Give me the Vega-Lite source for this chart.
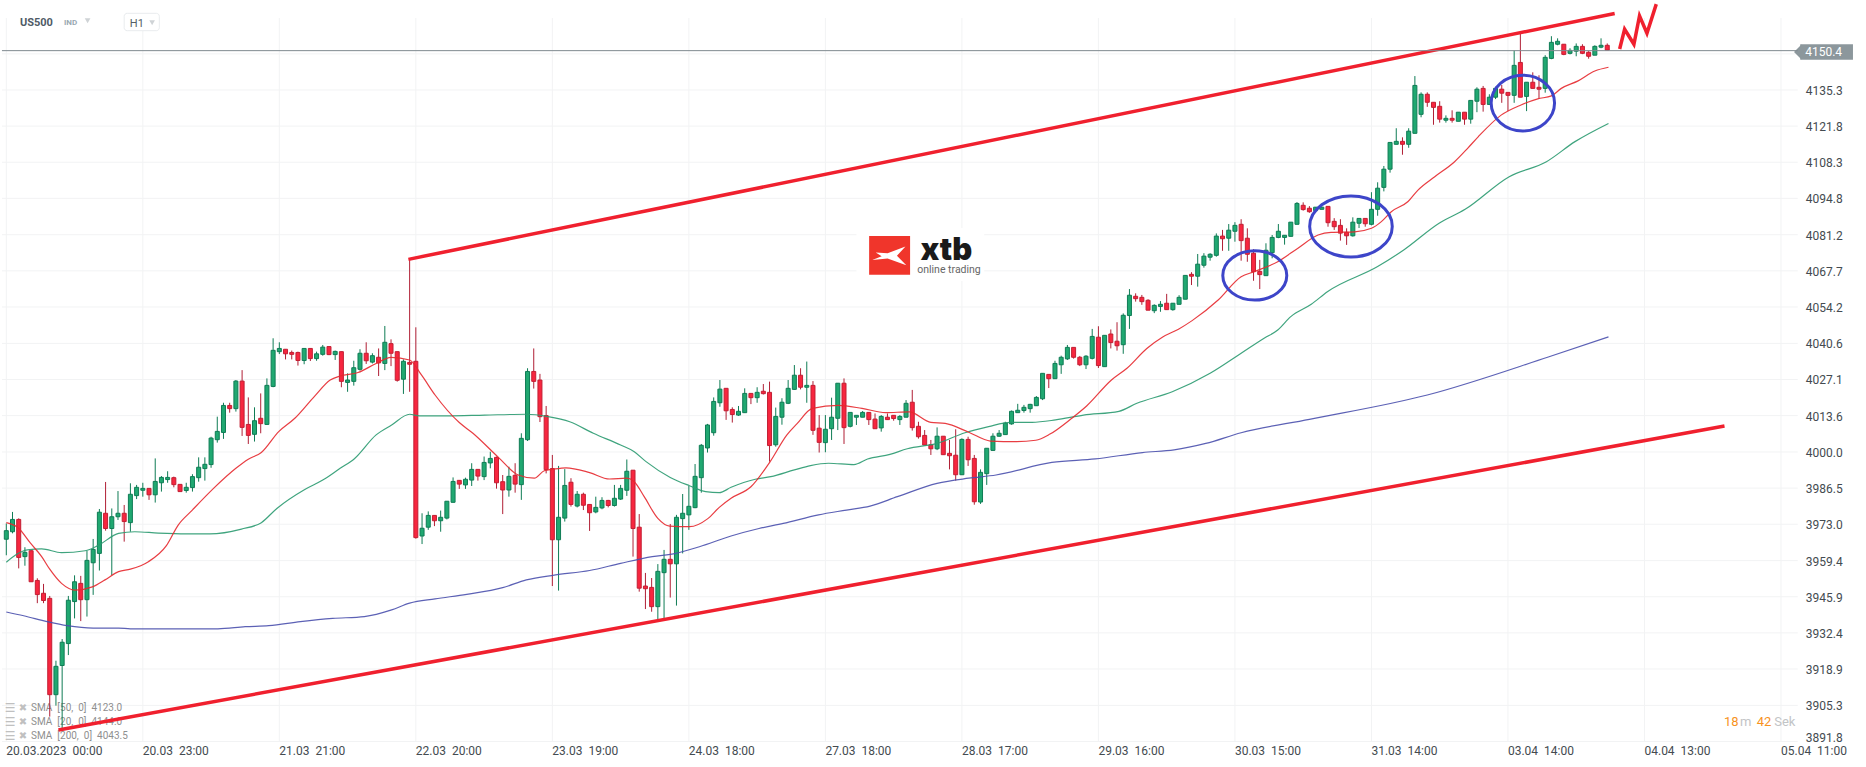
{
"$schema":"https://vega.github.io/schema/vega-lite/v6.json",
"width":1866,"height":767,"padding":0,"autosize":{"type":"none"},
"background":"#ffffff",
"view":{"stroke":null},
"config":{"text":{"font":"Roboto"},"scale":{"continuousPadding":0}},
"datasets":{
"candles":[
{"i":0,"o":3967.4,"h":3973.3,"l":3961.4,"c":3970.6},{"i":1,"o":3970.2,"h":3977.6,"l":3969.6,"c":3974.8},{"i":2,"o":3974.8,"h":3975.2,"l":3956.5,"c":3960.6},{"i":3,"o":3960.9,"h":3964.4,"l":3957.5,"c":3962.5},{"i":4,"o":3963.1,"h":3963.4,"l":3951.5,"c":3951.5},{"i":5,"o":3952.0,"h":3952.8,"l":3943.5,"c":3946.7},{"i":6,"o":3947.2,"h":3950.7,"l":3943.5,"c":3944.5},{"i":7,"o":3945.3,"h":3946.2,"l":3901.1,"c":3909.3},{"i":8,"o":3909.3,"h":3922.0,"l":3905.2,"c":3919.9},{"i":9,"o":3920.2,"h":3930.1,"l":3896.1,"c":3928.9},
{"i":10,"o":3928.4,"h":3946.2,"l":3924.1,"c":3944.6},{"i":11,"o":3944.1,"h":3953.9,"l":3937.8,"c":3951.5},{"i":12,"o":3950.9,"h":3953.7,"l":3936.8,"c":3944.8},{"i":13,"o":3944.8,"h":3963.1,"l":3938.5,"c":3959.5},{"i":14,"o":3958.6,"h":3967.5,"l":3946.6,"c":3963.6},{"i":15,"o":3962.1,"h":3978.7,"l":3955.7,"c":3977.5},{"i":16,"o":3977.1,"h":3988.8,"l":3970.6,"c":3971.4},{"i":17,"o":3971.4,"h":3978.9,"l":3954.0,"c":3975.8},{"i":18,"o":3975.8,"h":3985.4,"l":3974.6,"c":3977.1},{"i":19,"o":3977.1,"h":3980.2,"l":3966.5,"c":3974.0},
{"i":20,"o":3973.6,"h":3988.3,"l":3970.2,"c":3984.2},{"i":21,"o":3983.7,"h":3987.7,"l":3982.4,"c":3986.8},{"i":22,"o":3985.7,"h":3988.5,"l":3983.3,"c":3986.4},{"i":23,"o":3986.4,"h":3986.4,"l":3982.1,"c":3984.0},{"i":24,"o":3984.0,"h":3997.6,"l":3981.1,"c":3989.0},{"i":25,"o":3988.5,"h":3991.0,"l":3985.2,"c":3990.5},{"i":26,"o":3989.7,"h":3992.8,"l":3988.5,"c":3990.5},{"i":27,"o":3990.4,"h":3990.8,"l":3986.8,"c":3987.8},{"i":28,"o":3987.9,"h":3988.0,"l":3985.2,"c":3985.2},{"i":29,"o":3985.6,"h":3988.5,"l":3984.8,"c":3986.8},
{"i":30,"o":3986.7,"h":3991.7,"l":3985.2,"c":3990.8},{"i":31,"o":3990.4,"h":3998.0,"l":3988.9,"c":3994.3},{"i":32,"o":3993.8,"h":3998.0,"l":3989.3,"c":3995.4},{"i":33,"o":3995.3,"h":4005.7,"l":3994.1,"c":4005.2},{"i":34,"o":4004.6,"h":4013.2,"l":4003.5,"c":4007.7},{"i":35,"o":4007.3,"h":4018.4,"l":4004.9,"c":4017.4},{"i":36,"o":4017.4,"h":4018.4,"l":4014.7,"c":4016.2},{"i":37,"o":4016.2,"h":4026.9,"l":4015.1,"c":4026.5},{"i":38,"o":4026.5,"h":4030.6,"l":4006.0,"c":4009.2},{"i":39,"o":4010.3,"h":4020.4,"l":4003.0,"c":4006.2},
{"i":40,"o":4006.6,"h":4016.7,"l":4003.9,"c":4011.7},{"i":41,"o":4012.6,"h":4021.9,"l":4007.0,"c":4010.6},{"i":42,"o":4010.3,"h":4027.5,"l":4010.1,"c":4024.9},{"i":43,"o":4024.5,"h":4042.5,"l":4024.2,"c":4038.0},{"i":44,"o":4037.5,"h":4041.0,"l":4036.6,"c":4038.7},{"i":45,"o":4038.4,"h":4038.4,"l":4034.6,"c":4036.7},{"i":46,"o":4037.2,"h":4037.9,"l":4034.6,"c":4036.5},{"i":47,"o":4037.2,"h":4037.5,"l":4032.3,"c":4034.2},{"i":48,"o":4034.2,"h":4038.7,"l":4032.8,"c":4038.7},{"i":49,"o":4038.7,"h":4038.7,"l":4034.0,"c":4034.9},
{"i":50,"o":4034.9,"h":4037.5,"l":4034.1,"c":4036.7},{"i":51,"o":4036.5,"h":4040.0,"l":4036.0,"c":4039.2},{"i":52,"o":4039.4,"h":4039.4,"l":4036.2,"c":4036.4},{"i":53,"o":4036.4,"h":4037.9,"l":4034.4,"c":4037.6},{"i":54,"o":4037.5,"h":4037.5,"l":4024.2,"c":4026.4},{"i":55,"o":4026.0,"h":4029.4,"l":4022.5,"c":4026.9},{"i":56,"o":4026.4,"h":4034.1,"l":4024.8,"c":4031.5},{"i":57,"o":4030.9,"h":4038.4,"l":4030.4,"c":4036.9},{"i":58,"o":4036.9,"h":4041.0,"l":4032.9,"c":4034.1},{"i":59,"o":4033.6,"h":4036.9,"l":4033.1,"c":4036.0},
{"i":60,"o":4035.4,"h":4038.7,"l":4028.4,"c":4033.3},{"i":61,"o":4033.1,"h":4047.1,"l":4030.6,"c":4041.0},{"i":62,"o":4040.5,"h":4042.1,"l":4032.1,"c":4036.9},{"i":63,"o":4037.5,"h":4037.5,"l":4026.3,"c":4026.8},{"i":64,"o":4027.2,"h":4034.6,"l":4021.7,"c":4033.9},{"i":65,"o":4033.5,"h":4072.0,"l":4022.5,"c":4032.8},{"i":66,"o":4033.9,"h":4046.6,"l":3967.6,"c":3968.0},{"i":67,"o":3968.6,"h":3977.1,"l":3965.6,"c":3971.5},{"i":68,"o":3971.9,"h":3977.8,"l":3970.9,"c":3976.3},{"i":69,"o":3976.3,"h":3976.3,"l":3972.3,"c":3974.3},
{"i":70,"o":3974.3,"h":3978.1,"l":3970.2,"c":3975.6},{"i":71,"o":3975.3,"h":3981.6,"l":3974.8,"c":3981.6},{"i":72,"o":3981.2,"h":3990.5,"l":3981.1,"c":3989.0},{"i":73,"o":3989.4,"h":3989.4,"l":3986.2,"c":3988.0},{"i":74,"o":3987.7,"h":3990.4,"l":3986.2,"c":3989.8},{"i":75,"o":3989.5,"h":3995.8,"l":3987.3,"c":3993.5},{"i":76,"o":3993.5,"h":3993.5,"l":3989.3,"c":3991.0},{"i":77,"o":3990.8,"h":3998.3,"l":3989.5,"c":3996.1},{"i":78,"o":3995.9,"h":4000.1,"l":3993.9,"c":3997.6},{"i":79,"o":3998.0,"h":3998.3,"l":3986.3,"c":3988.5},
{"i":80,"o":3988.9,"h":3991.4,"l":3976.8,"c":3985.8},{"i":81,"o":3985.8,"h":3994.5,"l":3983.3,"c":3990.9},{"i":82,"o":3991.3,"h":3995.8,"l":3984.8,"c":3988.0},{"i":83,"o":3987.8,"h":4007.0,"l":3982.1,"c":4005.1},{"i":84,"o":4004.6,"h":4031.3,"l":4004.1,"c":4030.1},{"i":85,"o":4030.1,"h":4038.7,"l":4023.7,"c":4026.4},{"i":86,"o":4026.9,"h":4029.2,"l":4011.2,"c":4013.2},{"i":87,"o":4013.6,"h":4017.2,"l":3992.0,"c":3993.4},{"i":88,"o":3993.8,"h":3998.9,"l":3949.9,"c":3967.2},{"i":89,"o":3967.2,"h":3994.8,"l":3948.2,"c":3975.6},
{"i":90,"o":3975.3,"h":3993.6,"l":3974.0,"c":3987.5},{"i":91,"o":3988.7,"h":3990.2,"l":3979.6,"c":3980.4},{"i":92,"o":3979.8,"h":3985.4,"l":3979.3,"c":3984.2},{"i":93,"o":3984.2,"h":3984.8,"l":3978.3,"c":3980.1},{"i":94,"o":3980.4,"h":3980.4,"l":3970.5,"c":3977.3},{"i":95,"o":3977.6,"h":3983.3,"l":3977.1,"c":3979.3},{"i":96,"o":3979.1,"h":3983.1,"l":3978.6,"c":3981.9},{"i":97,"o":3981.9,"h":3982.1,"l":3979.3,"c":3980.0},{"i":98,"o":3980.0,"h":3987.7,"l":3979.6,"c":3982.7},{"i":99,"o":3982.4,"h":3987.7,"l":3982.1,"c":3986.4},
{"i":100,"o":3985.7,"h":3997.2,"l":3983.6,"c":3992.8},{"i":101,"o":3993.2,"h":3993.2,"l":3960.9,"c":3971.4},{"i":102,"o":3971.9,"h":3976.8,"l":3947.8,"c":3949.1},{"i":103,"o":3949.9,"h":3954.8,"l":3941.3,"c":3948.9},{"i":104,"o":3949.4,"h":3952.9,"l":3940.3,"c":3942.2},{"i":105,"o":3942.2,"h":3958.1,"l":3936.6,"c":3955.4},{"i":106,"o":3954.9,"h":3963.4,"l":3937.2,"c":3959.9},{"i":107,"o":3959.9,"h":3973.1,"l":3945.6,"c":3958.2},{"i":108,"o":3958.2,"h":3976.5,"l":3942.6,"c":3975.6},{"i":109,"o":3975.1,"h":3984.3,"l":3962.1,"c":3977.1},
{"i":110,"o":3976.5,"h":3987.3,"l":3970.9,"c":3979.7},{"i":111,"o":3979.2,"h":3995.5,"l":3979.0,"c":3990.9},{"i":112,"o":3990.4,"h":4003.0,"l":3984.8,"c":4002.5},{"i":113,"o":4001.5,"h":4010.5,"l":3999.8,"c":4010.1},{"i":114,"o":4007.2,"h":4020.4,"l":4006.1,"c":4018.9},{"i":115,"o":4018.4,"h":4026.9,"l":4016.9,"c":4023.5},{"i":116,"o":4023.8,"h":4023.8,"l":4012.0,"c":4015.4},{"i":117,"o":4015.9,"h":4016.7,"l":4011.0,"c":4014.0},{"i":118,"o":4013.8,"h":4017.2,"l":4013.5,"c":4015.2},{"i":119,"o":4014.7,"h":4023.8,"l":4014.7,"c":4021.9},
{"i":120,"o":4021.9,"h":4021.9,"l":4017.9,"c":4020.3},{"i":121,"o":4020.3,"h":4024.2,"l":4018.4,"c":4022.3},{"i":122,"o":4022.7,"h":4025.4,"l":4021.5,"c":4021.8},{"i":123,"o":4022.3,"h":4026.3,"l":3996.4,"c":4002.4},{"i":124,"o":4002.7,"h":4016.6,"l":4002.0,"c":4013.3},{"i":125,"o":4013.0,"h":4020.1,"l":4010.2,"c":4018.6},{"i":126,"o":4018.2,"h":4026.9,"l":4017.9,"c":4023.8},{"i":127,"o":4023.4,"h":4032.5,"l":4023.2,"c":4028.7},{"i":128,"o":4028.7,"h":4031.3,"l":4023.4,"c":4024.2},{"i":129,"o":4024.2,"h":4033.8,"l":4018.4,"c":4024.9},
{"i":130,"o":4024.9,"h":4026.5,"l":4006.4,"c":4008.1},{"i":131,"o":4008.9,"h":4013.8,"l":3999.8,"c":4003.6},{"i":132,"o":4003.5,"h":4013.8,"l":3999.9,"c":4008.5},{"i":133,"o":4008.7,"h":4020.3,"l":4004.5,"c":4013.0},{"i":134,"o":4012.6,"h":4025.7,"l":4008.2,"c":4025.7},{"i":135,"o":4025.7,"h":4027.5,"l":4003.0,"c":4009.1},{"i":136,"o":4009.6,"h":4014.8,"l":4009.2,"c":4014.8},{"i":137,"o":4013.0,"h":4013.7,"l":4010.1,"c":4013.7},{"i":138,"o":4013.0,"h":4015.3,"l":4013.0,"c":4014.8},{"i":139,"o":4014.8,"h":4014.8,"l":4010.1,"c":4012.1},
{"i":140,"o":4012.3,"h":4014.4,"l":4008.7,"c":4008.7},{"i":141,"o":4009.0,"h":4013.8,"l":4007.6,"c":4013.3},{"i":142,"o":4013.0,"h":4014.4,"l":4012.0,"c":4012.1},{"i":143,"o":4013.7,"h":4013.7,"l":4011.7,"c":4012.5},{"i":144,"o":4012.1,"h":4013.8,"l":4010.1,"c":4013.3},{"i":145,"o":4013.0,"h":4019.4,"l":4013.0,"c":4018.2},{"i":146,"o":4018.6,"h":4023.2,"l":4008.0,"c":4009.1},{"i":147,"o":4009.6,"h":4011.3,"l":4005.0,"c":4005.7},{"i":148,"o":4006.2,"h":4008.2,"l":4002.6,"c":4002.6},{"i":149,"o":4002.7,"h":4004.5,"l":3998.9,"c":4001.2},
{"i":150,"o":4001.2,"h":4009.2,"l":4000.7,"c":4005.9},{"i":151,"o":4005.9,"h":4005.9,"l":3998.9,"c":3999.0},{"i":152,"o":3999.5,"h":4004.5,"l":3993.5,"c":3998.6},{"i":153,"o":3998.8,"h":4008.5,"l":3989.3,"c":3991.5},{"i":154,"o":3991.5,"h":4005.1,"l":3991.4,"c":4004.7},{"i":155,"o":4004.7,"h":4005.7,"l":3994.8,"c":3997.1},{"i":156,"o":3997.6,"h":3998.9,"l":3980.3,"c":3981.4},{"i":157,"o":3981.3,"h":3993.5,"l":3980.6,"c":3992.4},{"i":158,"o":3991.9,"h":4001.4,"l":3987.7,"c":4001.4},{"i":159,"o":4000.6,"h":4007.0,"l":4000.5,"c":4005.9},
{"i":160,"o":4005.9,"h":4008.2,"l":4005.7,"c":4007.0},{"i":161,"o":4006.5,"h":4011.3,"l":4006.5,"c":4010.8},{"i":162,"o":4010.5,"h":4015.5,"l":4010.2,"c":4015.2},{"i":163,"o":4014.7,"h":4018.0,"l":4014.7,"c":4015.6},{"i":164,"o":4015.5,"h":4017.6,"l":4014.7,"c":4016.7},{"i":165,"o":4016.2,"h":4018.0,"l":4014.7,"c":4017.8},{"i":166,"o":4017.3,"h":4020.9,"l":4017.2,"c":4020.4},{"i":167,"o":4019.9,"h":4029.4,"l":4019.4,"c":4029.4},{"i":168,"o":4029.0,"h":4029.0,"l":4023.9,"c":4027.4},{"i":169,"o":4027.4,"h":4034.1,"l":4027.3,"c":4033.1},
{"i":170,"o":4032.6,"h":4036.0,"l":4029.2,"c":4035.4},{"i":171,"o":4034.8,"h":4040.0,"l":4034.4,"c":4039.1},{"i":172,"o":4039.1,"h":4039.1,"l":4034.9,"c":4035.4},{"i":173,"o":4035.4,"h":4035.9,"l":4032.1,"c":4032.6},{"i":174,"o":4032.6,"h":4036.2,"l":4031.0,"c":4035.8},{"i":175,"o":4035.0,"h":4046.0,"l":4034.6,"c":4043.2},{"i":176,"o":4042.9,"h":4047.0,"l":4031.4,"c":4032.3},{"i":177,"o":4031.9,"h":4043.6,"l":4031.9,"c":4043.6},{"i":178,"o":4044.1,"h":4045.8,"l":4038.7,"c":4040.9},{"i":179,"o":4041.4,"h":4048.5,"l":4037.9,"c":4039.7},
{"i":180,"o":4040.1,"h":4051.8,"l":4036.7,"c":4051.1},{"i":181,"o":4051.0,"h":4060.9,"l":4046.0,"c":4058.6},{"i":182,"o":4058.2,"h":4059.3,"l":4056.2,"c":4057.3},{"i":183,"o":4057.8,"h":4058.7,"l":4055.0,"c":4056.2},{"i":184,"o":4056.7,"h":4057.1,"l":4053.0,"c":4053.0},{"i":185,"o":4052.8,"h":4055.2,"l":4051.9,"c":4054.8},{"i":186,"o":4054.4,"h":4056.4,"l":4052.4,"c":4055.2},{"i":187,"o":4055.6,"h":4059.1,"l":4053.2,"c":4053.2},{"i":188,"o":4053.2,"h":4055.6,"l":4052.8,"c":4055.6},{"i":189,"o":4055.2,"h":4058.6,"l":4055.2,"c":4057.8},
{"i":190,"o":4057.1,"h":4066.0,"l":4057.1,"c":4066.0},{"i":191,"o":4066.4,"h":4067.2,"l":4062.4,"c":4065.7},{"i":192,"o":4065.7,"h":4074.0,"l":4061.8,"c":4070.2},{"i":193,"o":4069.8,"h":4074.3,"l":4068.9,"c":4073.2},{"i":194,"o":4072.8,"h":4074.3,"l":4071.5,"c":4073.9},{"i":195,"o":4073.5,"h":4081.7,"l":4073.0,"c":4080.7},{"i":196,"o":4080.7,"h":4083.0,"l":4075.2,"c":4079.7},{"i":197,"o":4079.9,"h":4085.2,"l":4075.2,"c":4082.9},{"i":198,"o":4082.5,"h":4085.9,"l":4078.6,"c":4084.7},{"i":199,"o":4085.1,"h":4087.0,"l":4071.5,"c":4079.0},
{"i":200,"o":4079.9,"h":4083.6,"l":4071.1,"c":4073.9},{"i":201,"o":4074.3,"h":4075.8,"l":4064.0,"c":4067.4},{"i":202,"o":4067.5,"h":4071.8,"l":4060.9,"c":4066.3},{"i":203,"o":4065.9,"h":4078.0,"l":4065.9,"c":4075.4},{"i":204,"o":4074.5,"h":4081.1,"l":4072.4,"c":4080.2},{"i":205,"o":4080.2,"h":4085.2,"l":4079.9,"c":4082.5},{"i":206,"o":4080.2,"h":4081.0,"l":4077.5,"c":4081.0},{"i":207,"o":4080.6,"h":4085.9,"l":4080.6,"c":4085.9},{"i":208,"o":4085.1,"h":4093.4,"l":4085.1,"c":4092.9},{"i":209,"o":4092.2,"h":4093.3,"l":4090.2,"c":4090.6},
{"i":210,"o":4091.1,"h":4091.9,"l":4089.4,"c":4089.8},{"i":211,"o":4090.2,"h":4091.5,"l":4089.8,"c":4091.5},{"i":212,"o":4090.7,"h":4091.7,"l":4090.7,"c":4091.5},{"i":213,"o":4091.8,"h":4091.8,"l":4084.2,"c":4085.7},{"i":214,"o":4086.2,"h":4087.4,"l":4083.0,"c":4084.2},{"i":215,"o":4084.7,"h":4087.0,"l":4079.0,"c":4081.8},{"i":216,"o":4082.1,"h":4083.6,"l":4077.4,"c":4080.8},{"i":217,"o":4080.8,"h":4087.7,"l":4080.5,"c":4085.9},{"i":218,"o":4085.5,"h":4087.3,"l":4083.7,"c":4087.3},{"i":219,"o":4087.3,"h":4087.3,"l":4084.2,"c":4085.3},
{"i":220,"o":4085.1,"h":4097.1,"l":4084.7,"c":4090.7},{"i":221,"o":4090.7,"h":4100.8,"l":4088.3,"c":4098.6},{"i":222,"o":4098.9,"h":4106.9,"l":4097.4,"c":4105.7},{"i":223,"o":4105.7,"h":4115.7,"l":4104.4,"c":4115.7},{"i":224,"o":4115.0,"h":4121.0,"l":4115.0,"c":4116.1},{"i":225,"o":4116.1,"h":4117.6,"l":4111.1,"c":4115.0},{"i":226,"o":4115.0,"h":4121.0,"l":4113.7,"c":4119.9},{"i":227,"o":4119.1,"h":4140.5,"l":4119.1,"c":4137.0},{"i":228,"o":4126.2,"h":4134.4,"l":4125.1,"c":4133.7},{"i":229,"o":4133.7,"h":4134.4,"l":4129.0,"c":4130.7},
{"i":230,"o":4130.7,"h":4130.7,"l":4122.3,"c":4128.8},{"i":231,"o":4129.2,"h":4131.1,"l":4123.1,"c":4124.4},{"i":232,"o":4124.0,"h":4125.8,"l":4123.1,"c":4124.7},{"i":233,"o":4124.7,"h":4127.7,"l":4123.1,"c":4124.0},{"i":234,"o":4123.6,"h":4127.0,"l":4123.6,"c":4127.0},{"i":235,"o":4127.0,"h":4127.0,"l":4122.3,"c":4124.4},{"i":236,"o":4124.4,"h":4131.4,"l":4122.7,"c":4131.4},{"i":237,"o":4131.1,"h":4136.3,"l":4127.0,"c":4135.6},{"i":238,"o":4135.9,"h":4136.8,"l":4127.2,"c":4129.9},{"i":239,"o":4129.9,"h":4133.7,"l":4129.9,"c":4132.6},
{"i":240,"o":4132.6,"h":4136.5,"l":4131.9,"c":4135.9},{"i":241,"o":4135.6,"h":4137.2,"l":4130.5,"c":4134.1},{"i":242,"o":4134.4,"h":4134.4,"l":4127.4,"c":4133.3},{"i":243,"o":4133.3,"h":4150.0,"l":4130.5,"c":4144.5},{"i":244,"o":4145.6,"h":4156.9,"l":4132.6,"c":4132.6},{"i":245,"o":4132.9,"h":4138.2,"l":4127.4,"c":4138.2},{"i":246,"o":4138.2,"h":4141.9,"l":4135.9,"c":4135.9},{"i":247,"o":4136.3,"h":4140.8,"l":4132.0,"c":4135.6},{"i":248,"o":4135.9,"h":4148.3,"l":4134.3,"c":4147.5},{"i":249,"o":4147.1,"h":4155.4,"l":4146.8,"c":4153.1},
{"i":250,"o":4152.4,"h":4154.6,"l":4152.0,"c":4153.5},{"i":251,"o":4152.4,"h":4152.4,"l":4148.3,"c":4148.6},{"i":252,"o":4149.0,"h":4150.9,"l":4148.6,"c":4150.1},{"i":253,"o":4149.8,"h":4152.7,"l":4147.9,"c":4151.6},{"i":254,"o":4151.6,"h":4152.4,"l":4148.7,"c":4149.0},{"i":255,"o":4149.4,"h":4149.8,"l":4147.0,"c":4147.9},{"i":256,"o":4148.3,"h":4152.0,"l":4148.3,"c":4151.6},{"i":257,"o":4151.3,"h":4154.6,"l":4150.9,"c":4152.0},{"i":258,"o":4152.0,"h":4152.7,"l":4150.2,"c":4150.2}
],
"sma20":[
{"i":0,"p":3973.6},{"i":1.9,"p":3971.7},{"i":3.9,"p":3965.9},{"i":5.7,"p":3960.9},{"i":7,"p":3956.2},{"i":8.9,"p":3950.9},{"i":11.1,"p":3948.4},{"i":14,"p":3949.7},{"i":15.9,"p":3952.2},{"i":18.1,"p":3955.3},{"i":20,"p":3956.2},{"i":22.9,"p":3959.0},{"i":25.8,"p":3965.0},{"i":27.7,"p":3972.7},{"i":29.9,"p":3978.1},{"i":33.4,"p":3986.4},{"i":37,"p":3993.9},{"i":39,"p":3997.3},{"i":41.1,"p":3999.8},{"i":43.9,"p":4007.6},{"i":46.5,"p":4012.6},{"i":49.7,"p":4020.9},{"i":52.2,"p":4026.9},{"i":53.8,"p":4028.4},{"i":56.7,"p":4029.7},{"i":59.6,"p":4033.1},{"i":62,"p":4035.4},{"i":65,"p":4034.4},{"i":66.9,"p":4028.8},{"i":69.1,"p":4021.3},{"i":73,"p":4011.0},{"i":75.2,"p":4007.0},{"i":79.3,"p":3998.0},{"i":82.5,"p":3991.4},{"i":85.1,"p":3990.2},{"i":86.7,"p":3993.0},{"i":88,"p":3993.5},{"i":90.2,"p":3994.1},{"i":94,"p":3992.3},{"i":97.2,"p":3989.9},{"i":100,"p":3990.2},{"i":101.2,"p":3988.9},{"i":102.8,"p":3983.3},{"i":105,"p":3975.2},{"i":106.9,"p":3972.3},{"i":110.1,"p":3972.1},{"i":113,"p":3975.0},{"i":114.9,"p":3979.3},{"i":116.8,"p":3982.7},{"i":120,"p":3987.0},{"i":123.1,"p":3996.4},{"i":125.8,"p":4006.4},{"i":127.4,"p":4010.5},{"i":129.9,"p":4016.3},{"i":134.1,"p":4017.4},{"i":137.9,"p":4016.3},{"i":141.7,"p":4014.7},{"i":145.5,"p":4015.0},{"i":149,"p":4011.1},{"i":151.3,"p":4010.7},{"i":155.1,"p":4007.4},{"i":158.6,"p":4004.1},{"i":162.8,"p":4003.9},{"i":165.9,"p":4004.4},{"i":168.2,"p":4006.7},{"i":171.7,"p":4012.6},{"i":174.1,"p":4017.2},{"i":178.1,"p":4026.9},{"i":180.6,"p":4031.3},{"i":183.8,"p":4038.7},{"i":186.3,"p":4042.9},{"i":188.9,"p":4045.9},{"i":191.1,"p":4049.1},{"i":195.3,"p":4056.8},{"i":199,"p":4065.5},{"i":201.1,"p":4067.4},{"i":204.9,"p":4071.1},{"i":208.1,"p":4076.1},{"i":211.4,"p":4081.1},{"i":213.5,"p":4082.1},{"i":217.3,"p":4082.3},{"i":220,"p":4083.6},{"i":221.6,"p":4086.1},{"i":223.2,"p":4089.8},{"i":225.9,"p":4093.6},{"i":227.5,"p":4097.9},{"i":230.2,"p":4102.9},{"i":233.4,"p":4108.5},{"i":235.5,"p":4113.5},{"i":237.2,"p":4117.8},{"i":240.9,"p":4125.9},{"i":244.1,"p":4129.7},{"i":246.8,"p":4132.0},{"i":249,"p":4133.1},{"i":250.6,"p":4135.9},{"i":253.3,"p":4138.7},{"i":256,"p":4142.4},{"i":258.2,"p":4143.8}
],
"sma50":[
{"i":0,"p":3958.8},{"i":1.5,"p":3961.5},{"i":3.4,"p":3963.4},{"i":5.7,"p":3963.8},{"i":8.9,"p":3962.4},{"i":12.7,"p":3963.1},{"i":14.9,"p":3965.2},{"i":18.1,"p":3969.6},{"i":20.7,"p":3970.2},{"i":24.5,"p":3969.7},{"i":29,"p":3969.4},{"i":32.8,"p":3969.4},{"i":37.9,"p":3971.2},{"i":41.1,"p":3973.6},{"i":43.6,"p":3978.9},{"i":48.1,"p":3986.0},{"i":51,"p":3989.5},{"i":53.8,"p":3993.9},{"i":56.1,"p":3997.5},{"i":59.6,"p":4006.4},{"i":62.1,"p":4010.1},{"i":65,"p":4014.1},{"i":66.6,"p":4013.5},{"i":71,"p":4013.5},{"i":77.1,"p":4013.8},{"i":83.8,"p":4014.1},{"i":87.3,"p":4013.2},{"i":90.8,"p":4011.3},{"i":94.6,"p":4007.0},{"i":99,"p":4002.6},{"i":101.2,"p":4000.1},{"i":103.1,"p":3996.4},{"i":107,"p":3990.5},{"i":110.1,"p":3987.4},{"i":112.7,"p":3985.2},{"i":114.9,"p":3984.8},{"i":116.8,"p":3986.8},{"i":120.7,"p":3989.8},{"i":123.2,"p":3990.8},{"i":127,"p":3993.3},{"i":129.6,"p":3994.9},{"i":132.5,"p":3995.8},{"i":136.6,"p":3995.3},{"i":138.8,"p":3997.4},{"i":142.4,"p":3999.1},{"i":145.2,"p":4001.2},{"i":150,"p":4003.2},{"i":154.5,"p":4007.2},{"i":158.3,"p":4009.5},{"i":161.8,"p":4011.1},{"i":165.3,"p":4011.1},{"i":169.1,"p":4012.0},{"i":173.6,"p":4013.8},{"i":179.3,"p":4015.2},{"i":182.2,"p":4018.2},{"i":187.9,"p":4022.5},{"i":194,"p":4029.4},{"i":199,"p":4036.9},{"i":202.7,"p":4042.5},{"i":204.9,"p":4045.6},{"i":207,"p":4050.6},{"i":210.3,"p":4055.2},{"i":212.9,"p":4059.9},{"i":221,"p":4069.3},{"i":225.2,"p":4075.5},{"i":230.9,"p":4085.5},{"i":235.1,"p":4090.7},{"i":242.2,"p":4102.9},{"i":248.2,"p":4108.5},{"i":252.8,"p":4116.0},{"i":258.2,"p":4122.8}
],
"sma200":[
{"i":0,"p":3940.2},{"i":2.8,"p":3938.8},{"i":6.6,"p":3936.6},{"i":9.8,"p":3935.1},{"i":14,"p":3934.2},{"i":18.1,"p":3934.2},{"i":20,"p":3933.9},{"i":34.1,"p":3933.9},{"i":38.5,"p":3934.7},{"i":42.3,"p":3935.1},{"i":47.4,"p":3936.6},{"i":52.6,"p":3937.8},{"i":57.7,"p":3938.5},{"i":62.1,"p":3941.0},{"i":65,"p":3943.5},{"i":69.1,"p":3945.1},{"i":74.2,"p":3946.8},{"i":80,"p":3949.3},{"i":83.8,"p":3952.2},{"i":88.3,"p":3954.0},{"i":94,"p":3955.7},{"i":99,"p":3958.4},{"i":104.1,"p":3960.9},{"i":107.9,"p":3962.1},{"i":111.7,"p":3964.6},{"i":116.8,"p":3968.6},{"i":121.3,"p":3971.4},{"i":125.2,"p":3973.3},{"i":130.9,"p":3976.5},{"i":135.4,"p":3978.3},{"i":139.2,"p":3979.8},{"i":143.6,"p":3983.3},{"i":150,"p":3988.3},{"i":155.1,"p":3990.2},{"i":159.5,"p":3991.4},{"i":168.5,"p":3996.1},{"i":175.5,"p":3997.4},{"i":183.1,"p":3999.8},{"i":188.2,"p":4000.8},{"i":193.3,"p":4003.2},{"i":199,"p":4007.2},{"i":210,"p":4012.2},{"i":229,"p":4021.3},{"i":248.5,"p":4035.5},{"i":258.2,"p":4043.0}
],
"upper":[{"i":64.8,"p":4072.0},{"i":259.2,"p":4163.9}],
"lower":[{"i":8.4,"p":3896.1},{"i":276.9,"p":4009.7}],
"zigzag":[{"i":260,"p":4150.6},{"i":260.8,"p":4158.0},{"i":262.3,"p":4152.4},{"i":263.2,"p":4163.0},{"i":264.4,"p":4156.5},{"i":265.9,"p":4167.4}],
"gridV":[{"i":0},{"i":22},{"i":44},{"i":66},{"i":88},{"i":110},{"i":132},{"i":154},{"i":176},{"i":198},{"i":220},{"i":242},{"i":264},{"i":286}],
"gridH":[{"p":4148.8},{"p":4135.3},{"p":4121.8},{"p":4108.3},{"p":4094.8},{"p":4081.2},{"p":4067.7},{"p":4054.2},{"p":4040.6},{"p":4027.1},{"p":4013.6},{"p":4000.0},{"p":3986.5},{"p":3973.0},{"p":3959.4},{"p":3945.9},{"p":3932.4},{"p":3918.9},{"p":3905.3},{"p":3891.8}],
"xLabels":[{"i":0,"t":"20.03.2023\u00a0\u00a000:00"},{"i":22,"t":"20.03\u00a0\u00a023:00"},{"i":44,"t":"21.03\u00a0\u00a021:00"},{"i":66,"t":"22.03\u00a0\u00a020:00"},{"i":88,"t":"23.03\u00a0\u00a019:00"},{"i":110,"t":"24.03\u00a0\u00a018:00"},{"i":132,"t":"27.03\u00a0\u00a018:00"},{"i":154,"t":"28.03\u00a0\u00a017:00"},{"i":176,"t":"29.03\u00a0\u00a016:00"},{"i":198,"t":"30.03\u00a0\u00a015:00"},{"i":220,"t":"31.03\u00a0\u00a014:00"},{"i":242,"t":"03.04\u00a0\u00a014:00"},{"i":264,"t":"04.04\u00a0\u00a013:00"},{"i":286,"t":"05.04\u00a0\u00a011:00"}],
"yLabels":[{"p":4135.3,"t":"4135.3"},{"p":4121.8,"t":"4121.8"},{"p":4108.3,"t":"4108.3"},{"p":4094.8,"t":"4094.8"},{"p":4081.2,"t":"4081.2"},{"p":4067.7,"t":"4067.7"},{"p":4054.2,"t":"4054.2"},{"p":4040.6,"t":"4040.6"},{"p":4027.1,"t":"4027.1"},{"p":4013.6,"t":"4013.6"},{"p":4000.0,"t":"4000.0"},{"p":3986.5,"t":"3986.5"},{"p":3973.0,"t":"3973.0"},{"p":3959.4,"t":"3959.4"},{"p":3945.9,"t":"3945.9"},{"p":3932.4,"t":"3932.4"},{"p":3918.9,"t":"3918.9"},{"p":3905.3,"t":"3905.3"},{"p":3893.6,"t":"3891.8"}]
},
"layer":[
{"data":{"name":"gridH"},"mark":{"type":"rule","stroke":"#f2f3f4","strokeWidth":1},
 "encoding":{"x":{"datum":-0.7,"type":"quantitative","scale":{"domain":[-1.015,299.7],"nice":false,"zero":false},"axis":null},"x2":{"datum":288.7},
 "y":{"field":"p","type":"quantitative","scale":{"domain":[3882.27,4168.93],"nice":false,"zero":false},"axis":null}}},
{"data":{"name":"gridV"},"mark":{"type":"rule","stroke":"#f2f3f4","strokeWidth":1},
 "encoding":{"x":{"field":"i","type":"quantitative","scale":{"domain":[-1.015,299.7],"nice":false,"zero":false},"axis":null},
 "y":{"datum":3891.8,"type":"quantitative","scale":{"domain":[3882.27,4168.93],"nice":false,"zero":false},"axis":null},"y2":{"datum":4162.2}}},
{
"encoding":{
"x":{"field":"i","type":"quantitative","scale":{"domain":[-1.015,299.7],"nice":false,"zero":false},"axis":null},
"y":{"field":"p","type":"quantitative","scale":{"domain":[3882.27,4168.93],"nice":false,"zero":false},"axis":null}
},
"layer":[
{"data":{"values":[{"i":137,"i2":157.6,"p":4083.7,"p2":4063.9}]},"mark":{"type":"rect","fill":"#ffffff"},"encoding":{"x2":{"field":"i2"},"y2":{"field":"p2"}}},
{"data":{"values":[{"i":139.05,"i2":145.65,"p":4080.7,"p2":4066.2}]},"mark":{"type":"rect","fill":"#f0352b"},"encoding":{"x2":{"field":"i2"},"y2":{"field":"p2"}}},
{"data":{"values":[{"i":142.3,"p":4073.3}]},"mark":{"type":"point","filled":true,"fill":"#ffffff","opacity":1,"strokeWidth":0,"size":1156,"shape":"M-.8,-.2 L-.1,-.15 L.95,-.55 L.45,0 L1,.55 L-.1,.15 L-1,.25 L-.45,.02 Z"}},
{"data":{"values":[{"i":151.5,"p":4075.1,"t":"xtb"}]},"mark":{"type":"text","font":"Inter","fontWeight":900,"fontSize":31,"fill":"#1a1a1a","align":"center","baseline":"middle"},"encoding":{"text":{"field":"t"}}},
{"data":{"values":[{"i":146.8,"p":4068.2,"t":"online trading"}]},"mark":{"type":"text","fontSize":10.5,"fill":"#666666","align":"left","baseline":"middle"},"encoding":{"text":{"field":"t"}}},
{"data":{"values":[{"i":2.2,"p":4160.3,"t":"US500"}]},"mark":{"type":"text","fontSize":11,"fontWeight":"bold","fill":"#4f5b66","align":"left","baseline":"middle"},"encoding":{"text":{"field":"t"}}},
{"data":{"values":[{"i":9.3,"p":4160.3,"t":"IND"}]},"mark":{"type":"text","fontSize":8,"fontWeight":"bold","fill":"#9aa9b2","align":"left","baseline":"middle"},"encoding":{"text":{"field":"t"}}},
{"data":{"values":[{"i":19,"i2":24.66,"p":4163.96,"p2":4157.46}]},"mark":{"type":"rect","fill":"#ffffff","stroke":"#e9ecee","strokeWidth":1,"cornerRadius":3},"encoding":{"x2":{"field":"i2"},"y2":{"field":"p2"}}},
{"data":{"values":[{"i":19.9,"p":4160.1,"t":"H1"}]},"mark":{"type":"text","fontSize":11,"fill":"#555f66","align":"left","baseline":"middle"},"encoding":{"text":{"field":"t"}}},
{"data":{"values":[{"i":13.1,"p":4161.2},{"i":23.5,"p":4160.4}]},"mark":{"type":"point","shape":"triangle-down","filled":true,"fill":"#cfd3d6","opacity":1,"strokeWidth":0,"size":32}},
{"data":{"values":[{"i":0.6,"p":3904.4},{"i":0.6,"p":3899.2},{"i":0.6,"p":3894.0}]},"mark":{"type":"text","font":"DejaVu Sans","fontSize":12,"fill":"#c0c0c0","align":"center","baseline":"middle","text":"\u2630"}},
{"data":{"values":[{"i":2.7,"p":3904.4},{"i":2.7,"p":3899.2},{"i":2.7,"p":3894.0}]},"mark":{"type":"text","font":"DejaVu Sans","fontSize":10,"fill":"#c0c0c0","align":"center","baseline":"middle","text":"\u2716"}},
{"data":{"values":[{"i":4,"p":3904.2,"t":"SMA\u00a0\u00a0[50,\u00a0\u00a00]\u00a0\u00a04123.0"},{"i":4,"p":3899.2,"t":"SMA\u00a0\u00a0[20,\u00a0\u00a00]\u00a0\u00a04144.0"},{"i":4,"p":3894.0,"t":"SMA\u00a0\u00a0[200,\u00a0\u00a00]\u00a0\u00a04043.5"}]},"mark":{"type":"text","fontSize":10,"fill":"#8f8f8f","align":"left","baseline":"middle"},"encoding":{"text":{"field":"t"}}},
{"data":{"name":"candles"},"mark":{"type":"rule","strokeWidth":1},
 "encoding":{"y":{"field":"l","type":"quantitative","scale":{"domain":[3882.27,4168.93],"nice":false,"zero":false},"axis":null},"y2":{"field":"h"},
 "stroke":{"condition":{"test":"datum.c>=datum.o","value":"#0f7c55"},"value":"#b01f35"}}},
{"data":{"name":"candles"},"mark":{"type":"bar","orient":"vertical","size":4,"strokeWidth":1},
 "encoding":{"y":{"field":"o","type":"quantitative","scale":{"domain":[3882.27,4168.93],"nice":false,"zero":false},"axis":null},"y2":{"field":"c"},
 "fill":{"condition":{"test":"datum.c>=datum.o","value":"#20a871"},"value":"#f7263f"},
 "stroke":{"condition":{"test":"datum.c>=datum.o","value":"#0f7c55"},"value":"#c21f33"}}},
{"data":{"name":"sma200"},"mark":{"type":"line","stroke":"#4a50ad","strokeWidth":1.2,"opacity":0.9,"interpolate":"monotone"}},
{"data":{"name":"sma50"},"mark":{"type":"line","stroke":"#2a9a70","strokeWidth":1.2,"opacity":0.9,"interpolate":"monotone"}},
{"data":{"name":"sma20"},"mark":{"type":"line","stroke":"#e6282e","strokeWidth":1.2,"opacity":0.9,"interpolate":"monotone"}},
{"data":{"name":"upper"},"mark":{"type":"line","stroke":"#f0202e","strokeWidth":3.5}},
{"data":{"name":"lower"},"mark":{"type":"line","stroke":"#f0202e","strokeWidth":3.5}},
{"data":{"name":"zigzag"},"mark":{"type":"line","stroke":"#f0202e","strokeWidth":3.5}},
{"data":{"values":[{"i":201.2,"p":4066.0}]},"mark":{"type":"point","filled":false,"opacity":1,"stroke":"#3d45c9","strokeWidth":3,"size":4096,"shape":"M-1,0 A1,.77 0 1 1 1,0 A1,.77 0 1 1 -1,0 Z"}},
{"data":{"values":[{"i":216.7,"p":4084.3}]},"mark":{"type":"point","filled":false,"opacity":1,"stroke":"#3d45c9","strokeWidth":3,"size":6823,"shape":"M-1,0 A1,.74 0 1 1 1,0 A1,.74 0 1 1 -1,0 Z"}},
{"data":{"values":[{"i":244.4,"p":4130.4}]},"mark":{"type":"point","filled":false,"opacity":1,"stroke":"#3d45c9","strokeWidth":3,"size":4020,"shape":"M-1,0 A1,.88 0 1 1 1,0 A1,.88 0 1 1 -1,0 Z"}},
{"data":{"values":[{"i":289.1,"i2":297.6,"p":4152.4,"p2":4146.6}]},"mark":{"type":"rect","fill":"#8c979c"},"encoding":{"x2":{"field":"i2"},"y2":{"field":"p2"}}},
{"data":{"values":[{"i":288.7,"p":4149.5}]},"mark":{"type":"point","filled":true,"fill":"#8c979c","opacity":1,"strokeWidth":0,"size":225,"shape":"M.5,-1 L.5,1 L-.5,0 Z"}},
{"data":{"values":[{"i":289.9,"p":4149.5,"t":"4150.4"}]},"mark":{"type":"text","fontSize":12,"fill":"#ffffff","align":"left","baseline":"middle"},"encoding":{"text":{"field":"t"}}},
{"data":{"values":[{"i":276.8,"p":3899.1,"t":"18"},{"i":282.1,"p":3899.1,"t":"42"}]},"mark":{"type":"text","fontSize":13,"fill":"#f7931e","align":"left","baseline":"middle"},"encoding":{"text":{"field":"t"}}},
{"data":{"values":[{"i":279.4,"p":3899.1,"t":"m"},{"i":284.9,"p":3899.1,"t":"Sek"}]},"mark":{"type":"text","fontSize":13,"fill":"#c2c4c6","align":"left","baseline":"middle"},"encoding":{"text":{"field":"t"}}}
]
},
{"data":{"values":[{"p":4150.0}]},"mark":{"type":"rule","stroke":"#7f8a90","strokeWidth":1},
 "encoding":{"x":{"datum":-0.7,"type":"quantitative","scale":{"domain":[-1.015,299.7],"nice":false,"zero":false},"axis":null},"x2":{"datum":288.7},
 "y":{"field":"p","type":"quantitative","scale":{"domain":[3882.27,4168.93],"nice":false,"zero":false},"axis":null}}},
{"data":{"name":"xLabels"},"mark":{"type":"text","fontSize":12,"fill":"#444b50","align":"left","baseline":"middle"},
 "encoding":{"x":{"field":"i","type":"quantitative","scale":{"domain":[-1.015,299.7],"nice":false,"zero":false},"axis":null},
 "y":{"datum":3888.4,"type":"quantitative","scale":{"domain":[3882.27,4168.93],"nice":false,"zero":false},"axis":null},"text":{"field":"t"}}},
{"data":{"name":"yLabels"},"mark":{"type":"text","fontSize":12,"fill":"#444b50","align":"left","baseline":"middle","dy":1},
 "encoding":{"x":{"datum":290,"type":"quantitative","scale":{"domain":[-1.015,299.7],"nice":false,"zero":false},"axis":null},
 "y":{"field":"p","type":"quantitative","scale":{"domain":[3882.27,4168.93],"nice":false,"zero":false},"axis":null},"text":{"field":"t"}}}
]
}
